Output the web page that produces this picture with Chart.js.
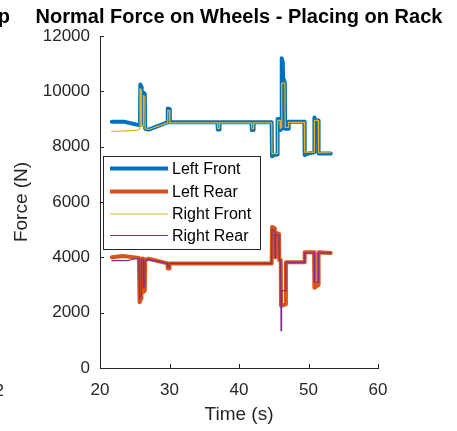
<!DOCTYPE html>
<html>
<head>
<meta charset="utf-8">
<title>Normal Force on Wheels - Placing on Rack</title>
<script src="https://cdn.jsdelivr.net/npm/chart.js@4/dist/chart.umd.min.js"></script>
<style>
  html, body { margin: 0; padding: 0; background: #fff; }
  canvas { display: block; }
</style>
</head>
<body>
<canvas id="chart" width="457" height="431"></canvas>
<script>
// values (time in s, force in N)
const leftFrontT = [21.7, 23.5, 25.6, 25.75, 25.8, 25.95, 26.0, 26.2, 26.25, 26.45, 26.5, 27.0, 29.7, 29.75, 30.0, 30.05, 36.9, 36.95, 37.15, 37.2, 41.8, 41.85, 42.05, 42.1, 44.7, 44.75, 45.0, 45.5, 45.55, 45.9, 45.95, 46.1, 46.15, 46.3, 46.35, 46.6, 46.65, 47.1, 47.15, 49.4, 49.45, 49.9, 50.8, 50.85, 51.0, 51.4, 51.45, 53.2];
const leftFrontF = [8900, 8900, 8780, 8780, 10250, 10150, 8800, 8800, 9950, 9900, 8650, 8620, 8880, 9380, 9350, 8880, 8880, 8620, 8620, 8880, 8880, 8600, 8600, 8880, 8880, 7650, 7700, 7720, 9000, 9000, 8600, 8650, 11200, 11050, 10500, 10300, 8650, 8650, 8900, 8900, 7700, 7750, 7800, 9050, 8950, 8950, 7750, 7750];

const leftRearT = [21.7, 23.3, 25.6, 25.7, 25.9, 25.95, 26.2, 26.25, 26.45, 26.5, 27.0, 29.7, 29.75, 29.95, 30.0, 44.7, 44.75, 45.15, 45.2, 45.25, 45.75, 45.8, 46.0, 46.05, 46.7, 46.75, 49.4, 49.45, 50.8, 50.85, 51.4, 51.45, 53.2];
const leftRearF = [4000, 4050, 3980, 2380, 2500, 3950, 3950, 2750, 2800, 3900, 3950, 3780, 3600, 3600, 3780, 3780, 5100, 5050, 4000, 4880, 4850, 3900, 3900, 2250, 2300, 3820, 3820, 4180, 4180, 2900, 3000, 4180, 4160];

const rightFrontT = [21.7, 23.0, 25.5, 25.7, 25.75, 25.9, 25.95, 26.2, 26.25, 26.45, 26.5, 27.0, 29.7, 29.75, 30.0, 30.05, 36.9, 36.95, 37.15, 37.2, 41.8, 41.85, 42.05, 42.1, 44.7, 44.75, 45.5, 45.55, 45.9, 45.95, 46.1, 46.15, 46.6, 46.65, 47.1, 47.15, 49.4, 49.45, 50.8, 50.85, 51.4, 51.45, 53.2];
const rightFrontF = [8550, 8560, 8600, 8650, 10100, 10050, 8750, 8750, 9850, 9800, 8650, 8620, 8860, 9300, 9300, 8860, 8860, 8650, 8650, 8860, 8860, 8650, 8650, 8860, 8860, 7750, 7750, 8950, 8950, 8650, 8700, 10300, 10300, 8700, 8700, 8880, 8880, 7800, 7800, 8950, 8950, 7780, 7780];

const rightRearT = [21.7, 24.0, 25.0, 25.6, 25.7, 25.9, 25.95, 26.2, 26.25, 26.45, 26.5, 27.0, 29.7, 29.75, 29.95, 30.0, 44.7, 44.75, 45.15, 45.2, 45.25, 45.75, 45.8, 46.0, 46.05, 46.1, 46.15, 46.7, 46.75, 49.4, 49.45, 50.8, 50.85, 51.4, 51.45, 53.2];
const rightRearF = [3880, 3880, 3950, 3950, 2500, 2600, 3930, 3930, 2900, 2950, 3900, 3920, 3780, 3650, 3650, 3780, 3780, 5000, 4950, 4000, 4800, 4800, 3900, 3900, 1350, 1400, 2800, 2800, 3820, 3820, 4150, 4150, 3100, 3100, 4150, 4150];

const xTicks = [20, 30, 40, 50, 60];
const yTicks = [0, 2000, 4000, 6000, 8000, 10000, 12000];

const axisColor = '#262626';
const fontFam = '"Liberation Sans", Arial, Helvetica, sans-serif';

const toPoints = function(ts, vs) {
    return ts.map((t, i) => ({ x: t, y: vs[i] }));
};

// MATLAB-style extras: inward ticks, title, axis labels, boxed legend
const matlabDecor = {
    id: 'matlabDecor',
    afterDraw(chart) {
        const ctx = chart.ctx;
        const xs = chart.scales.x;
        const ys = chart.scales.y;
        const area = chart.chartArea;
        ctx.save();

        // inward tick marks
        ctx.strokeStyle = axisColor;
        ctx.lineWidth = 1;
        ctx.beginPath();
        xTicks.forEach(v => {
            const px = Math.round(xs.getPixelForValue(v)) + 0.5;
            ctx.moveTo(px, area.bottom);
            ctx.lineTo(px, area.bottom - 4);
        });
        yTicks.forEach(v => {
            const py = Math.round(ys.getPixelForValue(v)) + 0.5;
            ctx.moveTo(area.left, py);
            ctx.lineTo(area.left + 4, py);
        });
        ctx.stroke();

        // title + clipped neighbour text
        ctx.fillStyle = '#000';
        ctx.font = 'bold 20px ' + fontFam;
        ctx.textAlign = 'center';
        ctx.textBaseline = 'middle';
        ctx.fillText('Normal Force on Wheels - Placing on Rack', (area.left + area.right) / 2, 17);
        ctx.textAlign = 'right';
        ctx.fillText('p', 10, 17);

        // axis labels
        ctx.fillStyle = axisColor;
        ctx.font = '19px ' + fontFam;
        ctx.textAlign = 'center';
        ctx.fillText('Time (s)', (area.left + area.right) / 2, 415);
        ctx.save();
        ctx.translate(22, (area.top + area.bottom) / 2);
        ctx.rotate(-Math.PI / 2);
        ctx.fillText('Force (N)', 0, 0);
        ctx.restore();
        ctx.font = '17px ' + fontFam;
        ctx.textAlign = 'right';
        ctx.fillText('2', 4, 391);

        // legend box
        const bx = 103.5, by = 156.5, bw = 157, bh = 93;
        ctx.fillStyle = '#fff';
        ctx.fillRect(bx, by, bw, bh);
        ctx.strokeStyle = axisColor;
        ctx.lineWidth = 1;
        ctx.strokeRect(bx, by, bw, bh);
        const rows = [168.5, 191.5, 214, 235.5];
        const order = [0, 1, 2, 3];
        ctx.font = '16px ' + fontFam;
        ctx.textAlign = 'left';
        ctx.textBaseline = 'middle';
        order.forEach((di, r) => {
            const ds = chart.data.datasets[di];
            ctx.strokeStyle = ds.borderColor;
            ctx.lineWidth = ds.borderWidth;
            ctx.beginPath();
            ctx.moveTo(110, rows[r]);
            ctx.lineTo(168, rows[r]);
            ctx.stroke();
            ctx.fillStyle = '#000';
            ctx.fillText(ds.label, 172, rows[r] + 1);
        });
        ctx.restore();
    }
};

new Chart(document.getElementById('chart'), {
    type: 'line',
    data: {
        datasets: [
            { label: 'Left Front', data: toPoints(leftFrontT, leftFrontF), borderColor: '#0072BD', borderWidth: 4, order: 4 },
            { label: 'Left Rear', data: toPoints(leftRearT, leftRearF), borderColor: '#D95319', borderWidth: 4, order: 3 },
            { label: 'Right Front', data: toPoints(rightFrontT, rightFrontF), borderColor: '#EDB120', borderWidth: 1.2, order: 2 },
            { label: 'Right Rear', data: toPoints(rightRearT, rightRearF), borderColor: '#7E2F8E', borderWidth: 1.2, order: 1 }
        ]
    },
    options: {
        responsive: false,
        animation: false,
        events: [],
        elements: {
            point: { radius: 0 },
            line: { tension: 0, borderJoinStyle: 'round', borderCapStyle: 'round' }
        },
        layout: { padding: { top: 36, right: 79, bottom: 0, left: 0 } },
        plugins: {
            legend: { display: false },
            title: { display: false },
            tooltip: { enabled: false }
        },
        scales: {
            x: {
                type: 'linear',
                min: 20,
                max: 60,
                afterFit: s => { s.height = 63; },
                afterBuildTicks: s => { s.ticks = xTicks.map(v => ({ value: v })); },
                grid: { display: false, drawTicks: false },
                border: { display: true, color: axisColor, width: 1 },
                ticks: { color: axisColor, padding: 12, font: { family: fontFam, size: 17 } }
            },
            y: {
                type: 'linear',
                min: 0,
                max: 12000,
                afterFit: s => { s.width = 100; },
                afterBuildTicks: s => { s.ticks = yTicks.map(v => ({ value: v })); },
                grid: { display: false, drawTicks: false },
                border: { display: true, color: axisColor, width: 1 },
                ticks: { color: axisColor, padding: 10, font: { family: fontFam, size: 17 }, callback: v => String(v) }
            }
        }
    },
    plugins: [matlabDecor]
});
</script>
</body>
</html>
